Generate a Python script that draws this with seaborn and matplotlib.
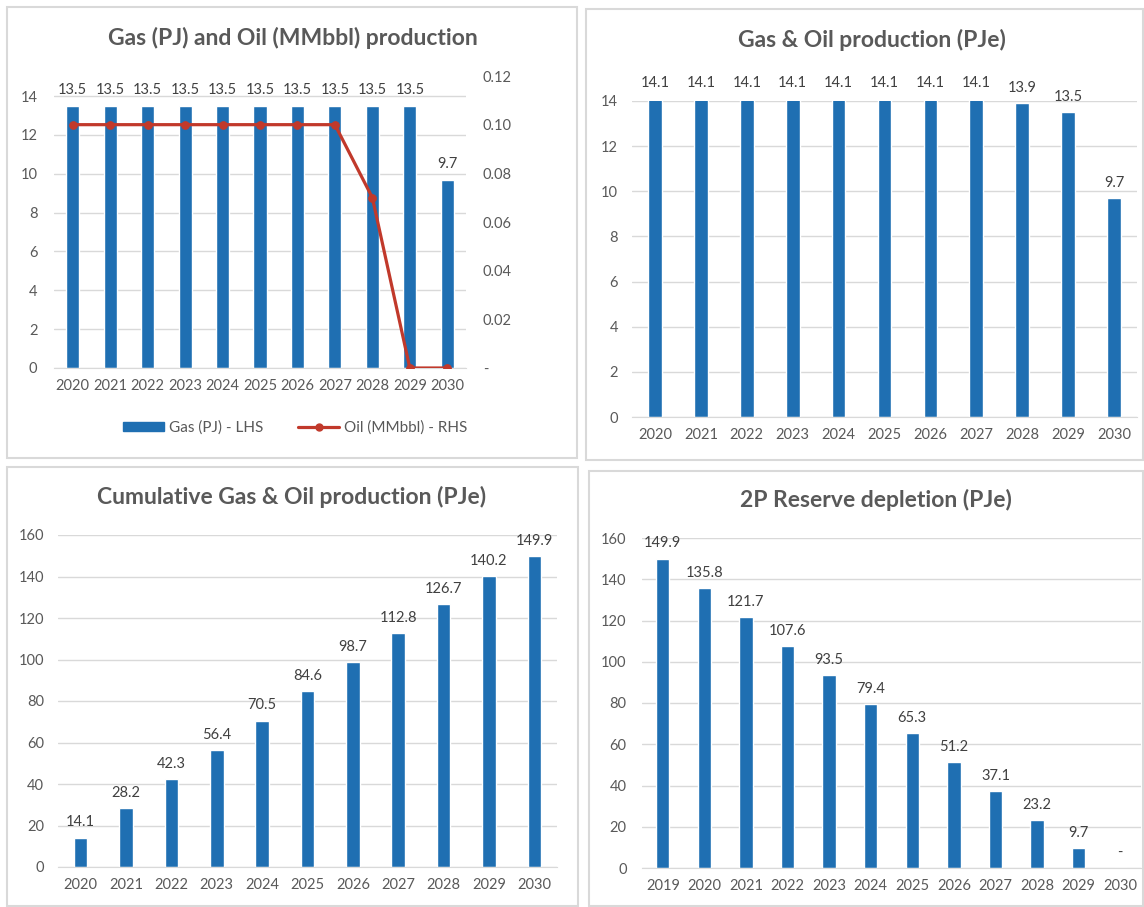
import matplotlib
matplotlib.use('Agg')
import matplotlib.pyplot as plt
from matplotlib.patches import Rectangle, Patch
from matplotlib.lines import Line2D
import seaborn as sns

sns.set_style('white')
plt.rcParams['font.family'] = ['Lato', 'DejaVu Sans']

# data
years = ['2020', '2021', '2022', '2023', '2024', '2025', '2026', '2027', '2028', '2029', '2030']
gas_pj = [13.5, 13.5, 13.5, 13.5, 13.5, 13.5, 13.5, 13.5, 13.5, 13.5, 9.7]
oil_mmbbl = [0.10, 0.10, 0.10, 0.10, 0.10, 0.10, 0.10, 0.10, 0.07, 0.0, 0.0]
production_pje = [14.1, 14.1, 14.1, 14.1, 14.1, 14.1, 14.1, 14.1, 13.9, 13.5, 9.7]
cumulative_pje = [14.1, 28.2, 42.3, 56.4, 70.5, 84.6, 98.7, 112.8, 126.7, 140.2, 149.9]
reserve_years = ['2019', '2020', '2021', '2022', '2023', '2024', '2025', '2026',
                 '2027', '2028', '2029', '2030']
reserve_pje = [149.9, 135.8, 121.7, 107.6, 93.5, 79.4, 65.3, 51.2, 37.1, 23.2, 9.7, 0.0]

BLUE = '#1f6fb2'
RED = '#c1392b'
GRID = '#d9d9d9'
TXT = '#595959'
LBL = '#404040'
FS = 10.5

W, H = 1144, 907
fig = plt.figure(figsize=(W / 100, H / 100), dpi=100)


def px_axes(l, t, r, b):
    return fig.add_axes([l / W, 1 - b / H, (r - l) / W, (b - t) / H])


def box(l, t, r, b):
    fig.patches.append(Rectangle((l / W, 1 - b / H), (r - l) / W, (b - t) / H,
                                 transform=fig.transFigure, fill=False,
                                 edgecolor=GRID, lw=1.5))


def title(x, y, s):
    fig.text(x / W, 1 - y / H, s, ha='center', va='center', fontsize=16.5,
             fontweight='bold', color=TXT)


def style(ax, ylim, yticks, ypad):
    ax.set_ylim(*ylim)
    ax.set_yticks(yticks)
    ax.grid(axis='y', color=GRID, lw=1)
    ax.set_axisbelow(True)
    for s in ax.spines.values():
        s.set_visible(False)
    ax.spines['bottom'].set_visible(True)
    ax.spines['bottom'].set_color(GRID)
    ax.tick_params(axis='both', length=0, labelsize=FS, labelcolor=TXT)
    ax.tick_params(axis='x', pad=8)
    ax.tick_params(axis='y', pad=ypad)
    ax.set_xlabel('')
    ax.set_ylabel('')


def labels(ax, vals):
    for i, v in enumerate(vals):
        txt = '-' if v == 0 else f'{v:.1f}'
        ax.annotate(txt, (i, v), xytext=(0, 6), textcoords='offset points',
                    ha='center', va='bottom', fontsize=FS, color=LBL,
                    annotation_clip=False)


# panel borders
box(7, 7, 577, 458)
box(586, 9, 1143, 460)
box(7, 467, 578, 906)
box(589, 471, 1143, 906)

# 1. Gas and oil production
ax1 = px_axes(54, 76, 466, 368)
sns.barplot(x=years, y=gas_pj, color=BLUE, width=0.35, saturation=1, ax=ax1)
style(ax1, (0, 15.03), range(0, 15, 2), 12)
ax1.set_xlim(-0.5, len(years) - 0.5)
labels(ax1, gas_pj)
ax1r = ax1.twinx()
sns.lineplot(x=list(range(len(years))), y=oil_mmbbl, color=RED, lw=2.3,
             marker='o', markersize=5.5, markeredgecolor=RED, ax=ax1r)
ax1r.set_ylim(0, 0.12)
ax1r.set_yticks([0, 0.02, 0.04, 0.06, 0.08, 0.10, 0.12])
ax1r.set_yticklabels(['-', '0.02', '0.04', '0.06', '0.08', '0.10', '0.12'])
ax1r.tick_params(axis='y', length=0, labelsize=FS, labelcolor=TXT, pad=12)
for s in ax1r.spines.values():
    s.set_visible(False)
title(293, 38, 'Gas (PJ) and Oil (MMbbl) production')
handles = [Patch(color=BLUE),
           Line2D([], [], color=RED, lw=2.3, marker='o', markersize=5)]
fig.legend(handles, ['Gas (PJ) - LHS', 'Oil (MMbbl) - RHS'], loc='center',
           bbox_to_anchor=(295 / W, 1 - 428 / H), ncol=2, frameon=False,
           fontsize=11, labelcolor=TXT, handlelength=2.7, handleheight=0.5,
           columnspacing=2.3, handletextpad=0.3)

# 2. Gas & Oil production (PJe)
ax2 = px_axes(632, 101, 1137, 417)
sns.barplot(x=years, y=production_pje, color=BLUE, width=0.3, saturation=1, ax=ax2)
style(ax2, (0, 14), range(0, 15, 2), 10)
ax2.set_xlim(-0.5, len(years) - 0.5)
labels(ax2, production_pje)
title(872, 40, 'Gas & Oil production (PJe)')

# 3. Cumulative production
ax3 = px_axes(58, 535, 557, 867)
sns.barplot(x=years, y=cumulative_pje, color=BLUE, width=0.3, saturation=1, ax=ax3)
style(ax3, (0, 160), range(0, 161, 20), 10)
ax3.set_xlim(-0.5, len(years) - 0.5)
labels(ax3, cumulative_pje)
title(292, 497, 'Cumulative Gas & Oil production (PJe)')

# 4. 2P reserve depletion
ax4 = px_axes(642, 538, 1141, 868)
sns.barplot(x=reserve_years, y=reserve_pje, color=BLUE, width=0.32, saturation=1, ax=ax4)
style(ax4, (0, 160), range(0, 161, 20), 11)
ax4.set_xlim(-0.5, len(reserve_years) - 0.5)
labels(ax4, reserve_pje)
title(876, 500, '2P Reserve depletion (PJe)')

fig.savefig('out.png', dpi=100, facecolor='white')
